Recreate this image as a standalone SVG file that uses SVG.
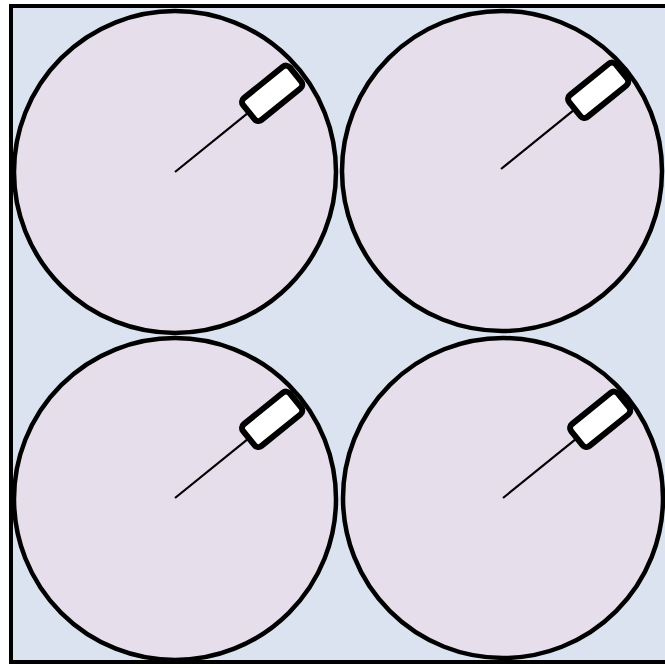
<svg xmlns="http://www.w3.org/2000/svg" width="665" height="668" viewBox="0 0 665 668">
<defs>
<style>
.frame{fill:#dae3ef;stroke:#000;stroke-width:4}
.dish{fill:#e6dfeb;stroke:#000;stroke-width:4.5}
.probe{fill:#fff;stroke:#000;stroke-width:6}
.wire{stroke:#000;stroke-width:2.2;fill:none}
</style>
<g id="unit">
<line class="wire" x1="0" y1="0" x2="96" y2="0"/>
<rect class="probe" x="95" y="-14" width="60" height="28" rx="5"/>
</g>
</defs>
<rect class="frame" x="11" y="6" width="660" height="656"/>
<g id="node-tl">
<circle class="dish" cx="175" cy="172" r="161"/>
<use href="#unit" transform="translate(175,172) rotate(-39)"/>
</g>
<g id="node-tr">
<circle class="dish" cx="502" cy="171" r="160"/>
<use href="#unit" transform="translate(501,169) rotate(-39)"/>
</g>
<g id="node-bl">
<circle class="dish" cx="175" cy="499" r="161"/>
<use href="#unit" transform="translate(175,498) rotate(-39)"/>
</g>
<g id="node-br">
<circle class="dish" cx="503" cy="498" r="160"/>
<use href="#unit" transform="translate(503,498) rotate(-39)"/>
</g>
<g id="connectors"/>
</svg>
